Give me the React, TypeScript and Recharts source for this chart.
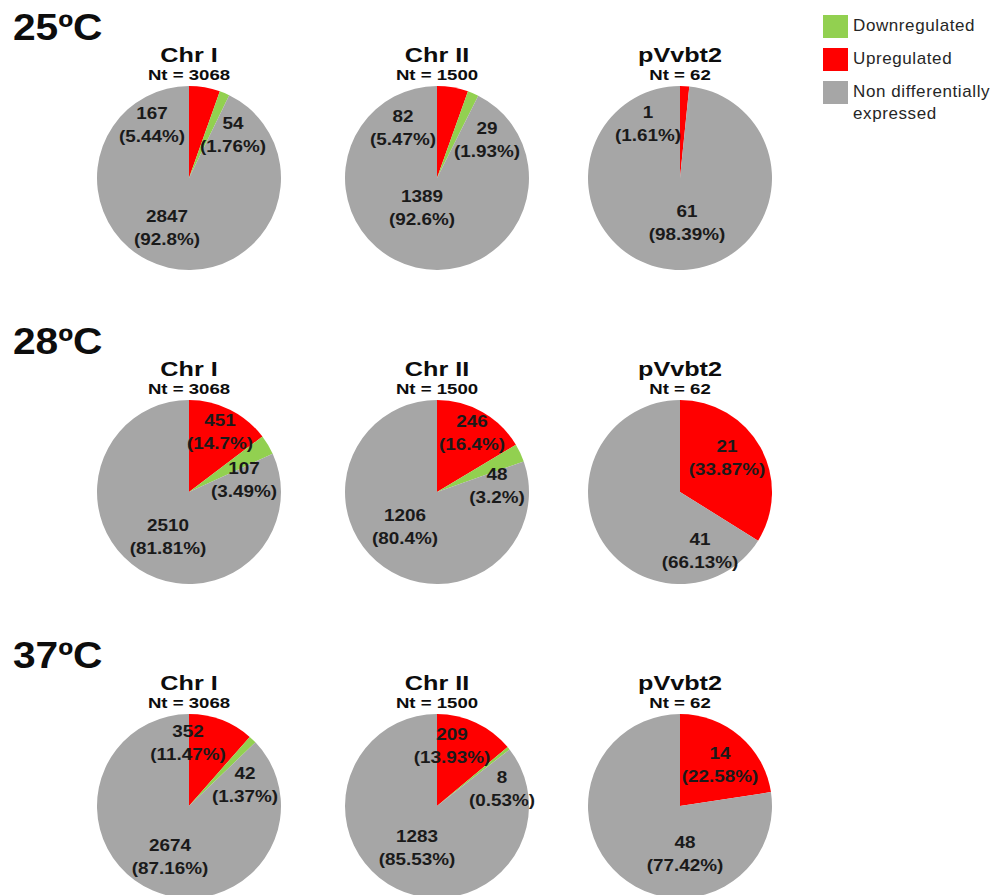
import { PieChart, Pie, Cell, Legend } from 'recharts';

const conditions = ['25ºC', '28ºC', '37ºC'];
const replicons = ['Chr I', 'Chr II', 'pVvbt2'];
const totals = [3068, 1500, 62];
const categories = ['Upregulated', 'Downregulated', 'Non differentially expressed'];
const legendOrder = ['Downregulated', 'Upregulated', 'Non differentially expressed'];

// [condition][replicon]
const upregulated = [
  [167, 82, 1],
  [451, 246, 21],
  [352, 209, 14],
];
const downregulated = [
  [54, 29, 0],
  [107, 48, 0],
  [42, 8, 0],
];
const nonDifferential = [
  [2847, 1389, 61],
  [2510, 1206, 41],
  [2674, 1283, 48],
];
const upPercent = [
  ['5.44%', '5.47%', '1.61%'],
  ['14.7%', '16.4%', '33.87%'],
  ['11.47%', '13.93%', '22.58%'],
];
const downPercent = [
  ['1.76%', '1.93%', ''],
  ['3.49%', '3.2%', ''],
  ['1.37%', '0.53%', ''],
];
const nonPercent = [
  ['92.8%', '92.6%', '98.39%'],
  ['81.81%', '80.4%', '66.13%'],
  ['87.16%', '85.53%', '77.42%'],
];

const COLORS: Record<string, string> = {
  Upregulated: '#FF0000',
  Downregulated: '#92D050',
  'Non differentially expressed': '#A6A6A6',
};

// layout
const PIE_X = [189, 437, 680];
const PIE_Y = [178, 492, 806];
const RADIUS = 92;
const FONT = '"Liberation Sans", Arial, sans-serif';

// label block offsets from pie centre, [condition][replicon][slice] -> [dx, dy]
const LABEL_OFFSETS = [
  [
    [[-37, -53], [44, -43], [-22, 50]],
    [[-34, -50], [50, -38], [-15, 30]],
    [[-32, -54], [0, 0], [7, 45]],
  ],
  [
    [[31, -60], [55, -12], [-21, 45]],
    [[35, -59], [60, -6], [-32, 35]],
    [[47, -34], [0, 0], [20, 59]],
  ],
  [
    [[-1, -63], [56, -21], [-19, 51]],
    [[15, -60], [65, -17], [-20, 42]],
    [[40, -41], [0, 0], [5, 48]],
  ],
];

const seriesFor = (r: number, k: number) => {
  const values = [upregulated, downregulated, nonDifferential];
  const pcts = [upPercent, downPercent, nonPercent];
  return categories.map((name, s) => ({
    name,
    value: values[s][r][k],
    pct: pcts[s][r][k],
  }));
};

const renderLabel = (props: any, r: number, k: number) => {
  const { cx, cy, index, value, payload } = props;
  if (!value) return null;
  const [dx, dy] = LABEL_OFFSETS[r][k][index];
  const pct = payload?.pct ?? props.pct;
  return (
    <text
      key={`lbl-${r}-${k}-${index}`}
      transform={`translate(${cx + dx},${cy + dy}) scale(1.18,1)`}
      textAnchor="middle"
      fontFamily={FONT}
      fontWeight="bold"
      fontSize={16}
      fill="#1a1a1a"
    >
      <tspan x={0} y={-6}>{value}</tspan>
      <tspan x={0} y={17}>({pct})</tspan>
    </text>
  );
};

const LegendContent = () => (
  <div style={{ fontFamily: FONT, color: '#262626' }}>
    {legendOrder.map((name) => (
      <div key={name} style={{ display: 'flex', alignItems: 'flex-start', marginBottom: 10 }}>
        <div style={{ width: 25, height: 23, background: COLORS[name], marginRight: 5, flex: 'none' }} />
        <span style={{ fontSize: 17, lineHeight: '22px', letterSpacing: 0.6, maxWidth: 142 }}>{name}</span>
      </div>
    ))}
  </div>
);

export default function App() {
  const pies = conditions.flatMap((c, r) =>
    replicons.map((rep, k) => {
      const data = seriesFor(r, k);
      return (
        <Pie
          key={`${c}-${rep}`}
          data={data}
          dataKey="value"
          nameKey="name"
          cx={PIE_X[k]}
          cy={PIE_Y[r]}
          outerRadius={RADIUS}
          startAngle={90}
          endAngle={-270}
          stroke="none"
          labelLine={false}
          label={(p: any) => renderLabel(p, r, k)}
          isAnimationActive={false}
        >
          {data.map((d) => (
            <Cell key={d.name} fill={COLORS[d.name]} />
          ))}
        </Pie>
      );
    })
  );

  return (
    <div
      style={{
        position: 'absolute',
        left: 0,
        top: 0,
        width: 995,
        height: 895,
        overflow: 'hidden',
        background: '#fff',
      }}
    >
      <PieChart width={995} height={895} margin={{ top: 0, right: 0, bottom: 0, left: 0 }}>
        {pies}
        <Legend
          content={<LegendContent />}
          wrapperStyle={{ position: 'absolute', top: 15, left: 823, width: 172 }}
        />
      </PieChart>
      <svg
        width={995}
        height={895}
        style={{ position: 'absolute', left: 0, top: 0, pointerEvents: 'none' }}
      >
        {conditions.map((c, r) => (
          <g key={c}>
            <text
              transform={`translate(13,${PIE_Y[r] - 138}) scale(1.1,1)`}
              fontFamily={FONT}
              fontWeight="bold"
              fontSize={37}
              fill="#0d0d0d"
            >
              {c}
            </text>
            {replicons.map((rep, k) => (
              <g key={rep}>
                <text
                  transform={`translate(${PIE_X[k]},${PIE_Y[r] - 116}) scale(1.2,1)`}
                  textAnchor="middle"
                  fontFamily={FONT}
                  fontWeight="bold"
                  fontSize={21}
                  fill="#0d0d0d"
                >
                  {rep}
                </text>
                <text
                  transform={`translate(${PIE_X[k]},${PIE_Y[r] - 98}) scale(1.2,1)`}
                  textAnchor="middle"
                  fontFamily={FONT}
                  fontWeight="bold"
                  fontSize={15.5}
                  fill="#0d0d0d"
                >
                  {`Nt = ${totals[k]}`}
                </text>
              </g>
            ))}
          </g>
        ))}
      </svg>
    </div>
  );
}
